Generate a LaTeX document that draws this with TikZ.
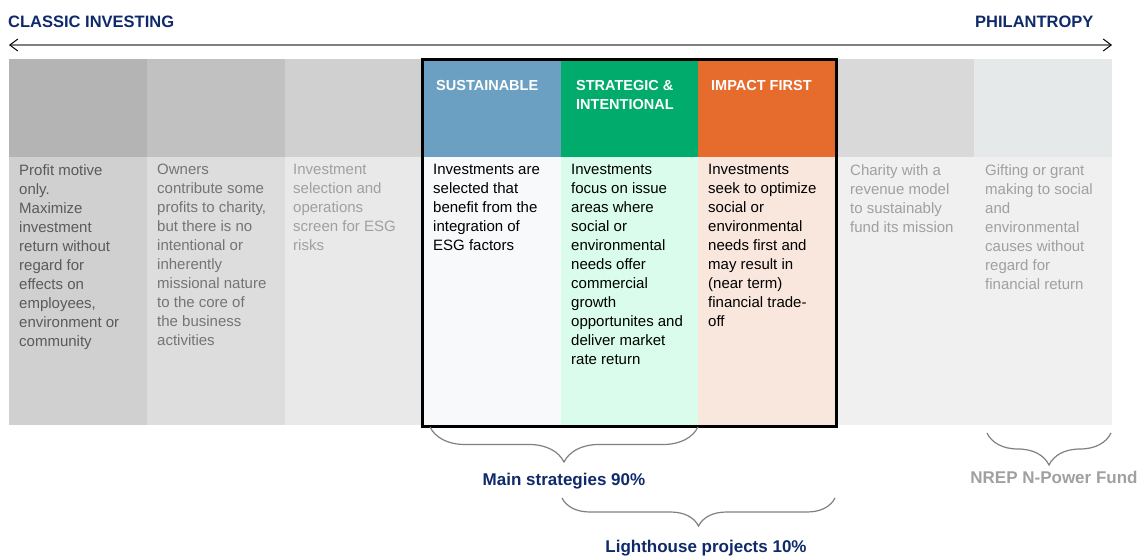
\documentclass[tikz,border=0pt]{standalone}
\usepackage{fontspec}
\setmainfont{Liberation Sans}
\usetikzlibrary{arrows.meta,decorations.pathreplacing,positioning}
\definecolor{navy}{HTML}{0F2A6B}
\definecolor{rule}{HTML}{808080}
\definecolor{hdA}{HTML}{B4B4B4}
\definecolor{hdB}{HTML}{C1C1C1}
\definecolor{hdC}{HTML}{CFD0CF}
\definecolor{hdD}{HTML}{6CA0C3}
\definecolor{hdE}{HTML}{00AB6B}
\definecolor{hdF}{HTML}{E66C2D}
\definecolor{hdG}{HTML}{D9D9D9}
\definecolor{hdH}{HTML}{E6E9EA}
\definecolor{bdA}{HTML}{D0D0D0}
\definecolor{bdB}{HTML}{DDDDDD}
\definecolor{bdC}{HTML}{E9E9E9}
\definecolor{bdD}{HTML}{F8F9FB}
\definecolor{bdE}{HTML}{D9FCEC}
\definecolor{bdF}{HTML}{F9E6DD}
\definecolor{bdG}{HTML}{F0F0F0}
\definecolor{txA}{HTML}{5A5A5A}
\definecolor{txB}{HTML}{747474}
\definecolor{txC}{HTML}{A0A0A0}
\tikzset{
  txt/.style={anchor=north west, inner sep=0pt, align=left, font=\fontsize{15}{19}\selectfont},
  hdr/.style={anchor=north west, inner sep=0pt, align=left, text=white, font=\fontsize{14.5}{19}\selectfont\bfseries},
  ttl/.style={anchor=base west, inner sep=0pt, text=navy, font=\fontsize{16.5}{19}\selectfont\bfseries},
  lbl/.style={anchor=base, inner sep=0pt, font=\fontsize{17}{20}\selectfont\bfseries},
  brc/.style={draw=rule, line width=1.2pt, decorate, decoration={brace, mirror, amplitude=#1}},
  tipb/.tip={Straight Barb[color=black, line width=1pt, length=8pt, width=12pt]},
  arr/.style={draw=rule, line width=1.8pt, tipb-tipb},
  frame/.style={draw=black, line width=3pt},
}
\begin{document}
\begin{tikzpicture}[x=1pt,y=-1pt]
  \useasboundingbox (0,0) rectangle (1138,557);
  \fill[hdA] (9,59) rectangle (146.9,157);
  \fill[hdB] (146.9,59) rectangle (284.8,157);
  \fill[hdC] (284.8,59) rectangle (422.6,157);
  \fill[hdD] (422.6,59) rectangle (560.5,157);
  \fill[hdE] (560.5,59) rectangle (698.4,157);
  \fill[hdF] (698.4,59) rectangle (836.3,157);
  \fill[hdG] (836.3,59) rectangle (974.1,157);
  \fill[hdH] (974.1,59) rectangle (1112,157);
  \fill[bdA] (9,157) rectangle (146.9,425);
  \fill[bdB] (146.9,157) rectangle (284.8,425);
  \fill[bdC] (284.8,157) rectangle (422.6,425);
  \fill[bdD] (422.6,157) rectangle (560.5,425);
  \fill[bdE] (560.5,157) rectangle (698.4,425);
  \fill[bdF] (698.4,157) rectangle (836.3,425);
  \fill[bdG] (836.3,157) rectangle (1112,425);
  \draw[frame] (422.6,59.5) rectangle (836.3,426);
  \coordinate (L) at (9,45);
  \coordinate (R) at (1112,45);
  \draw[arr] (L) -- (R);
  \node[ttl] (classic) at (8,27) {CLASSIC INVESTING};
  \node[ttl] (phil) at (975,27) {PHILANTROPY};
  \node[hdr] (sus) at (436,80) {SUSTAINABLE};
  \node[hdr] (strat) at (576,80) {STRATEGIC \&\\INTENTIONAL};
  \node[hdr] (imp) at (711,80) {IMPACT FIRST};
  \node[txt,text=txA] (profit) at (19,164) {Profit motive\\only.\\Maximize\\investment\\return without\\regard for\\effects on\\employees,\\environment or\\community};
  \node[txt,text=txB] (owners) at (157,164) {Owners\\contribute some\\profits to charity,\\but there is no\\intentional or\\inherently\\missional nature\\to the core of\\the business\\activities};
  \node[txt,text=txC] (screen) at (293,164) {Investment\\selection and\\operations\\screen for ESG\\risks};
  \node[txt] (esg) at (433,164) {Investments are\\selected that\\benefit from the\\integration of\\ESG factors};
  \node[txt] (focus) at (571,164) {Investments\\focus on issue\\areas where\\social or\\environmental\\needs offer\\commercial\\growth\\opportunites and\\deliver market\\rate return};
  \node[txt] (seek) at (708,164) {Investments\\seek to optimize\\social or\\environmental\\needs first and\\may result in\\(near term)\\financial trade-\\off};
  \node[txt,text=txC] (charity) at (850,164) {Charity with a\\revenue model\\to sustainably\\fund its mission};
  \node[txt,text=txC] (gift) at (985,164) {Gifting or grant\\making to social\\and\\environmental\\causes without\\regard for\\financial return};
  \coordinate (m1) at (430,427);
  \coordinate (m2) at (698,427);
  \coordinate (l1) at (562,498);
  \coordinate (l2) at (835,498);
  \coordinate (n1) at (987,433);
  \coordinate (n2) at (1111,433);
  \draw[brc=35pt] (m1) -- (m2);
  \draw[brc=28pt] (l1) -- (l2);
  \draw[brc=32pt] (n1) -- (n2);
  \node[lbl,text=navy] (main) at (564,485) {Main strategies 90\%};
  \node[lbl,text=navy] (light) at (706,552) {Lighthouse projects 10\%};
  \node[lbl,text=txC] (nrep) at (1054,483) {NREP N-Power Fund};
\end{tikzpicture}
\end{document}
